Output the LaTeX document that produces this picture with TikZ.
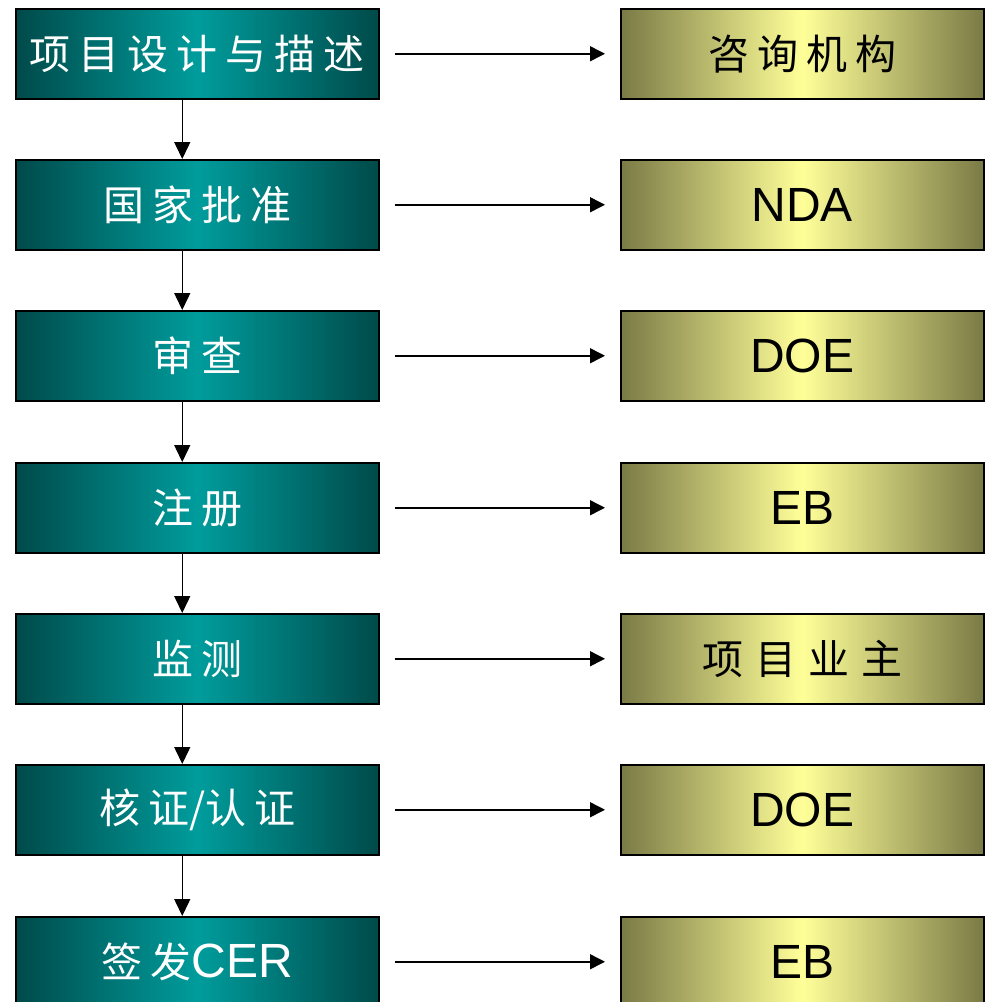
\documentclass[tikz,border=0pt]{standalone}
\usepackage{fontspec}
\setmainfont{Liberation Sans}
\newfontfamily\cjk{Noto Sans CJK SC}
\usetikzlibrary{arrows.meta}
\definecolor{tealD}{HTML}{004A4A}
\definecolor{tealL}{HTML}{009C9C}
\definecolor{yelD}{HTML}{7A7A46}
\definecolor{yelL}{HTML}{FFFF99}
\newcommand\ks{\hspace{8pt}}
\newcommand\zh[1]{{\cjk\fontsize{41}{48}\selectfont #1}}
\begin{document}
\begin{tikzpicture}[x=1pt,y=-1pt,
  basebox/.style={draw=black, line width=1.5pt, minimum width=363pt, minimum height=90pt,
    anchor=north west, inner sep=0pt, font=\fontsize{48}{56}\selectfont},
  lbox/.style={basebox, left color=tealD, right color=tealD, middle color=tealL, text=white},
  rbox/.style={basebox, left color=yelD, right color=yelD, middle color=yelL, text=black},
  arr/.style={-{Triangle[length=15pt,width=15pt]}, line width=1.5pt, black}
]
\useasboundingbox (0,0) rectangle (989,1002);
\clip (0,0) rectangle (989,1002);
\fill[white] (0,0) rectangle (989,1002);

\node[lbox] (l1) at (15,8)   {\zh{项\ks 目\ks 设\ks 计\ks 与\ks 描\ks 述}};
\node[lbox] (l2) at (15,159) {\zh{国\ks 家\ks 批\ks 准}};
\node[lbox] (l3) at (15,310) {\zh{审\ks 查}};
\node[lbox] (l4) at (15,462) {\zh{注\ks 册}};
\node[lbox] (l5) at (15,613) {\zh{监\ks 测}};
\node[lbox] (l6) at (15,764) {\zh{核\ks 证/认\ks 证}};
\node[lbox] (l7) at (15,916) {\zh{签\ks 发}CER};

\node[rbox] (r1) at (620,8)   {\zh{咨\ks 询\ks 机\ks 构}};
\node[rbox] (r2) at (620,159) {NDA};
\node[rbox] (r3) at (620,310) {DOE};
\node[rbox] (r4) at (620,462) {EB};
\node[rbox] (r5) at (620,613) {\zh{项\hspace{12pt}目\hspace{12pt}业\hspace{12pt}主}};
\node[rbox] (r6) at (620,764) {DOE};
\node[rbox] (r7) at (620,916) {EB};

\foreach \i in {1,...,7}{
  \draw[arr, shorten <=15pt, shorten >=15pt] (l\i) -- (r\i);
}
\foreach \i/\j in {1/2,2/3,3/4,4/5,5/6,6/7}{
  \draw[arr, -{Triangle[length=17pt,width=16pt]}] ([xshift=-15pt]l\i.south) -- ([xshift=-15pt]l\j.north);
}
\end{tikzpicture}
\end{document}
